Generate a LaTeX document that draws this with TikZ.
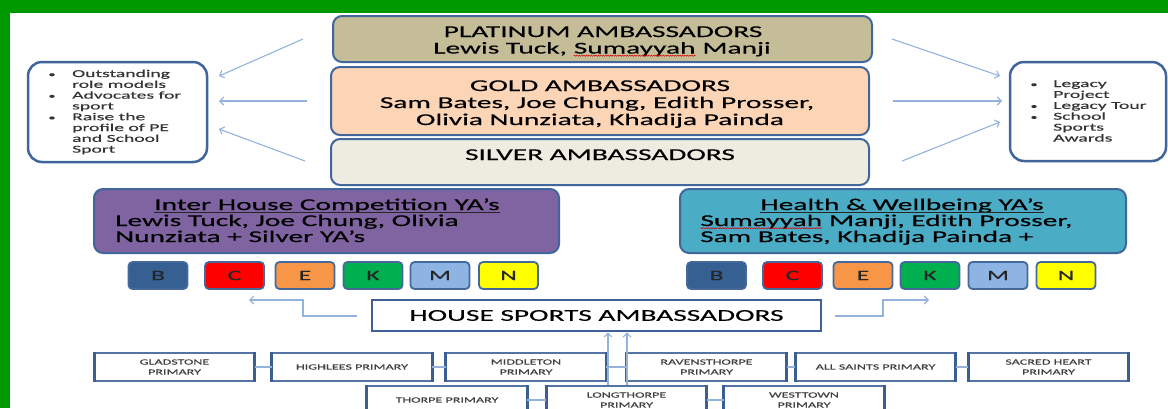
\documentclass[tikz,border=0pt]{standalone}
\usepackage{fontspec}
\setmainfont{Carlito}[FakeStretch=1.78,FakeBold=0.4]
\newfontfamily\bulfont{Carlito}[FakeStretch=1.87,FakeBold=0.3]
\usetikzlibrary{arrows.meta,decorations.pathmorphing}
\definecolor{grn}{HTML}{009900}
\definecolor{platfill}{HTML}{C4BD97}
\definecolor{goldfill}{HTML}{FBD5B5}
\definecolor{silvfill}{HTML}{EEECE1}
\definecolor{purp}{HTML}{8064A2}
\definecolor{teal}{HTML}{4BACC6}
\definecolor{boxline}{HTML}{41669C}
\definecolor{bulline}{HTML}{41659A}
\definecolor{sqline}{HTML}{46699B}
\definecolor{primline}{HTML}{5574A6}
\definecolor{primside}{HTML}{3C5F93}
\definecolor{arrcol}{HTML}{93B3DD}
\definecolor{hsline}{HTML}{3D6196}
\definecolor{hB}{HTML}{376092}
\definecolor{hC}{HTML}{FF0000}
\definecolor{hE}{HTML}{F79646}
\definecolor{hK}{HTML}{00B050}
\definecolor{hM}{HTML}{8EB4E3}
\definecolor{hN}{HTML}{FFFF00}
\newcommand\redsq[1]{\tikz[baseline=(sqw.base)]{\node[inner sep=0pt,outer sep=0pt] (sqw) {#1};\draw[red!85!black,line width=0.5pt,decorate,decoration={snake,amplitude=0.6pt,segment length=2.4pt}] ([yshift=-2.2pt]sqw.base west) -- ([yshift=-2.2pt]sqw.base east);}}
\begin{document}
\begin{tikzpicture}[x=1pt,y=-1pt,
  rbox/.style={draw=boxline, line width=2pt, rounded corners=9pt, inner sep=0pt},
  bbox/.style={draw=bulline, line width=2.5pt, rounded corners=14pt, fill=white, inner sep=0pt},
  sq/.style={draw=sqline, line width=1.8pt, rounded corners=4pt, minimum width=59pt, minimum height=27pt, inner sep=0pt, font=\fontsize{14.5}{14}\selectfont, text=black!85},
  prim/.style={draw=primline, line width=1.6pt, fill=white, minimum width=159pt, minimum height=28pt, inner sep=0pt, align=center, font=\fontsize{7.9}{10}\selectfont, text=black!75},
  hsbox/.style={draw=hsline, line width=2.5pt, fill=white, minimum width=449pt, minimum height=31pt, inner sep=0pt, font=\fontsize{16.5}{17}\selectfont, text=black},
  big/.style={inner sep=0pt, font=\fontsize{16.5}{17}\selectfont, text=black},
  bul/.style={inner sep=0pt, font=\bulfont\fontsize{10.5}{11}\selectfont, text=black!80},
  dot/.style={inner sep=0pt, font=\fontsize{8}{8}\selectfont, text=black!80},
  arr/.style={draw=arrcol, line width=1.1pt, -{Straight Barb[length=4pt,width=8pt]}},
  conn/.style={draw=arrcol, line width=1.1pt},
]
\fill[white] (0,0) rectangle (1168,408);
\useasboundingbox (0,0) rectangle (1168,408);
\clip (0,0) rectangle (1168,408);
\fill[grn] (0,0) rectangle (1168,13);
\fill[grn] (0,0) rectangle (10,408);

% ambassador boxes
\node[rbox, fill=platfill, minimum width=539pt, minimum height=46pt] (plat) at (602.5,39) {};
\node[rbox, fill=goldfill, minimum width=538pt, minimum height=68pt] (gold) at (600,101) {};
\node[rbox, fill=silvfill, minimum width=538pt, minimum height=46pt] (silv) at (600,162) {};
\node[big, anchor=base] (pT) at (603,37) {PLATINUM AMBASSADORS};
\node[big, anchor=base] (p2) at (602,53.5) {Lewis Tuck, \redsq{Sumayyah} Manji};
\node[big, anchor=base] (gT) at (600,91) {GOLD AMBASSADORS};
\node[big, anchor=base] (g2) at (597,108) {Sam Bates, Joe Chung, Edith Prosser,};
\node[big, anchor=base] (g3) at (600,125) {Olivia Nunziata, Khadija Painda};
\node[big, anchor=base] (sT) at (600,160) {SILVER AMBASSADORS};

% bullet boxes
\node[bbox, minimum width=179pt, minimum height=100pt] (lbox) at (117.5,112) {};
\node[bbox, minimum width=156pt, minimum height=99pt] (rbox) at (1088,111.5) {};
\foreach \t [count=\i] in {Outstanding,role models,Advocates for,sport,Raise the,profile of PE,and School,Sport}
  \node[bul, anchor=base west] (lt\i) at (72,{77+10.8*(\i-1)}) {\t};
\foreach \i in {1,3,5}
  \node[dot, anchor=base] (lb\i) at (52,{77+10.8*(\i-1)}) {\textbullet};
\foreach \t [count=\i] in {Legacy,Project,Legacy Tour,School,Sports,Awards}
  \node[bul, anchor=base west] (rt\i) at (1053,{87+10.9*(\i-1)}) {\t};
\foreach \i in {1,3,4}
  \node[dot, anchor=base] (rb\i) at (1034,{87+10.9*(\i-1)}) {\textbullet};

% arrows to bullet boxes
\coordinate (aL1s) at (303,39);  \coordinate (aL1e) at (219,76);
\coordinate (aL2s) at (307,101); \coordinate (aL2e) at (219,101);
\coordinate (aL3s) at (305,161); \coordinate (aL3e) at (219,129);
\coordinate (aR1s) at (892,39);  \coordinate (aR1e) at (1000,76);
\coordinate (aR2s) at (893,101); \coordinate (aR2e) at (1002,101);
\coordinate (aR3s) at (902,161); \coordinate (aR3e) at (1000,122);
\foreach \a in {L1,L2,L3,R1,R2,R3} \draw[arr] (a\a s) -- (a\a e);

% YA boxes
\node[rbox, fill=purp, minimum width=465pt, minimum height=64pt] (ihc) at (326.5,221) {};
\node[rbox, fill=teal, minimum width=446pt, minimum height=64pt] (hwb) at (903,221) {};
\node[big, anchor=base] (ihT) at (327,210) {Inter House Competition YA’s};
\draw[line width=1pt, black!85] ([yshift=-2.2pt]ihT.base west) -- ([yshift=-2.2pt]ihT.base east);
\node[big, anchor=base west] (ih2) at (115,226) {Lewis Tuck, Joe Chung, Olivia};
\node[big, anchor=base west] (ih3) at (115,242) {Nunziata + Silver YA’s};
\node[big, anchor=base] (hwT) at (902,210) {Health \& Wellbeing YA’s};
\draw[line width=1pt, black!85] ([yshift=-2.2pt]hwT.base west) -- ([yshift=-2.2pt]hwT.base east);
\node[big, anchor=base west] (hw2) at (700,226) {\redsq{Sumayyah} Manji, Edith Prosser,};
\node[big, anchor=base west] (hw3) at (700,242) {Sam Bates, Khadija Painda +};

% house squares
\foreach \l/\x [count=\i] in {B/158,C/234.5,E/305,K/373,M/440,N/508.5}
  \node[sq, fill=h\l] (L\l) at (\x,275.5) {\l};
\foreach \l/\x [count=\i] in {B/716.5,C/792.5,E/863,K/930,M/998,N/1066}
  \node[sq, fill=h\l] (R\l) at (\x,275.5) {\l};

% house sports ambassadors
\node[hsbox] (hsa) at (596.5,315.5) {HOUSE SPORTS AMBASSADORS};
\coordinate (hsLs) at (357,316); \coordinate (hsLe) at (249,300);
\coordinate (hsRs) at (835,316); \coordinate (hsRe) at (929,300);
\draw[arr] (hsLs) -- ++(-54,0) |- (hsLe);
\draw[arr] (hsRs) -- ++(48,0) |- (hsRe);

% primaries
\node[prim] (glad) at (174.5,367) {GLADSTONE\\PRIMARY};
\node[prim] (high) at (352,367) {HIGHLEES PRIMARY};
\node[prim] (midd) at (526,367) {MIDDLETON\\PRIMARY};
\node[prim] (rave) at (706.5,367) {RAVENSTHORPE\\PRIMARY};
\node[prim] (alls) at (875.5,367) {ALL SAINTS PRIMARY};
\node[prim] (sacr) at (1048.5,367) {SACRED HEART\\PRIMARY};
\node[prim] (thor) at (447,400) {THORPE PRIMARY};
\node[prim] (long) at (626.5,400) {LONGTHORPE\\PRIMARY};
\node[prim] (west) at (804,400) {WESTTOWN\\PRIMARY};
\foreach \n in {glad,high,midd,rave,alls,sacr,thor,long,west}{
  \draw[primside, line width=3pt] (\n.north west) -- (\n.south west);
  \draw[primside, line width=3pt] (\n.north east) -- (\n.south east);
}
\draw[conn] (glad) -- (high);
\draw[conn] (high) -- (midd);
\draw[conn] (midd) -- (rave);
\draw[conn] (rave) -- (alls);
\draw[conn] (alls) -- (sacr);
\draw[conn] (thor) -- (long);
\draw[conn] (long) -- (west);
\draw[arr] ([xshift=-18.5pt]long.north) -- ([xshift=-18.5pt]long.north |- hsa.south);
\draw[arr] ([xshift=0.5pt]long.north) -- ([xshift=0.5pt]long.north |- hsa.south);
\end{tikzpicture}
\end{document}
